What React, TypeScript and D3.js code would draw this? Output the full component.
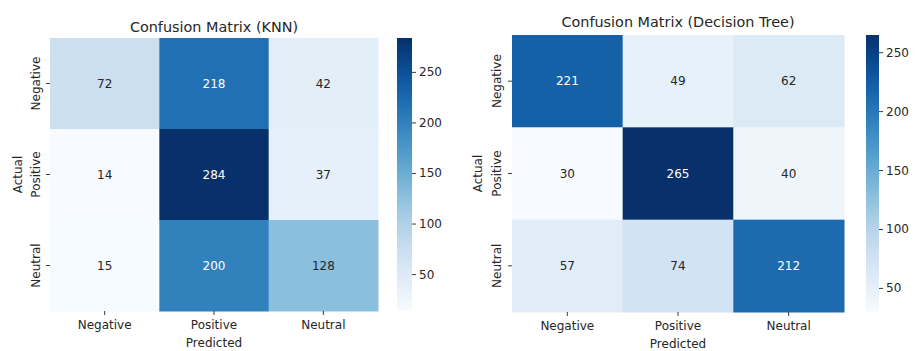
import React from "react";
import * as d3 from "d3";

// Class labels shared by both confusion matrices
const classLabels = ["Negative", "Positive", "Neutral"];

// Rows = actual class, columns = predicted class
const knnMatrix = [
  [72, 218, 42],
  [14, 284, 37],
  [15, 200, 128],
];

const treeMatrix = [
  [221, 49, 62],
  [30, 265, 40],
  [57, 74, 212],
];

const colorbarTicks = [50, 100, 150, 200, 250];

const FONT = "'DejaVu Sans', Verdana, sans-serif";

function luminance(c: string) {
  const rgb = d3.rgb(c);
  const lin = [rgb.r, rgb.g, rgb.b].map((v) => {
    const s = v / 255;
    return s <= 0.03928 ? s / 12.92 : Math.pow((s + 0.055) / 1.055, 2.4);
  });
  return 0.2126 * lin[0] + 0.7152 * lin[1] + 0.0722 * lin[2];
}

type PanelProps = {
  id: string;
  title: string;
  matrix: number[][];
  left: number;
  top: number;
  width: number;
  height: number;
  cbLeft: number;
  cbWidth: number;
  titleY: number;
  ylabelX: number;
  yTickLabelX: number;
};

function Panel(p: PanelProps) {
  const flat = p.matrix.flat();
  const vmin = d3.min(flat)!;
  const vmax = d3.max(flat)!;
  const norm = d3.scaleLinear().domain([vmin, vmax]).range([0, 1]);
  const color = (v: number) => d3.interpolateBlues(norm(v));

  const x = d3
    .scaleBand<string>()
    .domain(classLabels)
    .range([p.left, p.left + p.width]);
  const y = d3
    .scaleBand<string>()
    .domain(classLabels)
    .range([p.top, p.top + p.height]);
  const cbY = d3
    .scaleLinear()
    .domain([vmin, vmax])
    .range([p.top + p.height, p.top]);

  const stops = d3.range(0, 1.0001, 0.05);
  const bottom = p.top + p.height;

  return (
    <g>
      <defs>
        <linearGradient id={`grad-${p.id}`} x1="0" y1="1" x2="0" y2="0">
          {stops.map((t) => (
            <stop key={t} offset={t} stopColor={d3.interpolateBlues(t)} />
          ))}
        </linearGradient>
      </defs>

      {/* Cells */}
      {p.matrix.map((row, i) =>
        row.map((v, j) => {
          const c = color(v);
          const textColor = luminance(c) > 0.408 ? "#262626" : "#ffffff";
          const cx = x(classLabels[j])! + x.bandwidth() / 2;
          const cy = y(classLabels[i])! + y.bandwidth() / 2;
          return (
            <g key={`${i}-${j}`}>
              <rect
                x={x(classLabels[j])}
                y={y(classLabels[i])}
                width={x.bandwidth() + 0.5}
                height={y.bandwidth() + 0.5}
                fill={c}
              />
              <text
                x={cx}
                y={cy}
                textAnchor="middle"
                dominantBaseline="central"
                fontSize={12}
                fontFamily={FONT}
                fill={textColor}
              >
                {v}
              </text>
            </g>
          );
        })
      )}

      {/* Title */}
      <text
        x={p.left + p.width / 2}
        y={p.titleY}
        textAnchor="middle"
        fontSize={14.4}
        fontFamily={FONT}
        fill="#262626"
      >
        {p.title}
      </text>

      {/* X axis */}
      {classLabels.map((l) => {
        const cx = x(l)! + x.bandwidth() / 2;
        return (
          <g key={`x-${l}`}>
            <line x1={cx} x2={cx} y1={bottom} y2={bottom + 4} stroke="#262626" strokeWidth={0.9} />
            <text
              x={cx}
              y={bottom + 18}
              textAnchor="middle"
              fontSize={12}
              fontFamily={FONT}
              fill="#262626"
            >
              {l}
            </text>
          </g>
        );
      })}
      <text
        x={p.left + p.width / 2}
        y={bottom + 36}
        textAnchor="middle"
        fontSize={12}
        fontFamily={FONT}
        fill="#262626"
      >
        Predicted
      </text>

      {/* Y axis */}
      {classLabels.map((l) => {
        const cy = y(l)! + y.bandwidth() / 2;
        return (
          <g key={`y-${l}`}>
            <line x1={p.left - 4} x2={p.left} y1={cy} y2={cy} stroke="#262626" strokeWidth={0.9} />
            <text
              transform={`translate(${p.yTickLabelX},${cy}) rotate(-90)`}
              textAnchor="middle"
              dominantBaseline="central"
              fontSize={12}
              fontFamily={FONT}
              fill="#262626"
            >
              {l}
            </text>
          </g>
        );
      })}
      <text
        transform={`translate(${p.ylabelX},${p.top + p.height / 2}) rotate(-90)`}
        textAnchor="middle"
        dominantBaseline="central"
        fontSize={12}
        fontFamily={FONT}
        fill="#262626"
      >
        Actual
      </text>

      {/* Colorbar */}
      <rect
        x={p.cbLeft}
        y={p.top}
        width={p.cbWidth}
        height={p.height}
        fill={`url(#grad-${p.id})`}
      />
      {colorbarTicks
        .filter((t) => t >= vmin && t <= vmax)
        .map((t) => (
          <g key={`cb-${t}`}>
            <line
              x1={p.cbLeft + p.cbWidth}
              x2={p.cbLeft + p.cbWidth + 4}
              y1={cbY(t)}
              y2={cbY(t)}
              stroke="#262626"
              strokeWidth={0.9}
            />
            <text
              x={p.cbLeft + p.cbWidth + 7}
              y={cbY(t)}
              dominantBaseline="central"
              fontSize={12}
              fontFamily={FONT}
              fill="#262626"
            >
              {t}
            </text>
          </g>
        ))}
    </g>
  );
}

export default function App() {
  return (
    <svg
      width={916}
      height={351}
      style={{ position: "absolute", left: 0, top: 0, background: "#ffffff" }}
    >
      <rect x={0} y={0} width={916} height={351} fill="#ffffff" />
      <Panel
        id="knn"
        title="Confusion Matrix (KNN)"
        matrix={knnMatrix}
        left={50}
        top={38}
        width={328}
        height={273}
        cbLeft={397}
        cbWidth={15}
        titleY={32}
        ylabelX={18}
        yTickLabelX={36}
      />
      <Panel
        id="tree"
        title="Confusion Matrix (Decision Tree)"
        matrix={treeMatrix}
        left={512}
        top={35}
        width={332}
        height={277}
        cbLeft={866}
        cbWidth={13}
        titleY={27}
        ylabelX={478}
        yTickLabelX={497}
      />
    </svg>
  );
}
